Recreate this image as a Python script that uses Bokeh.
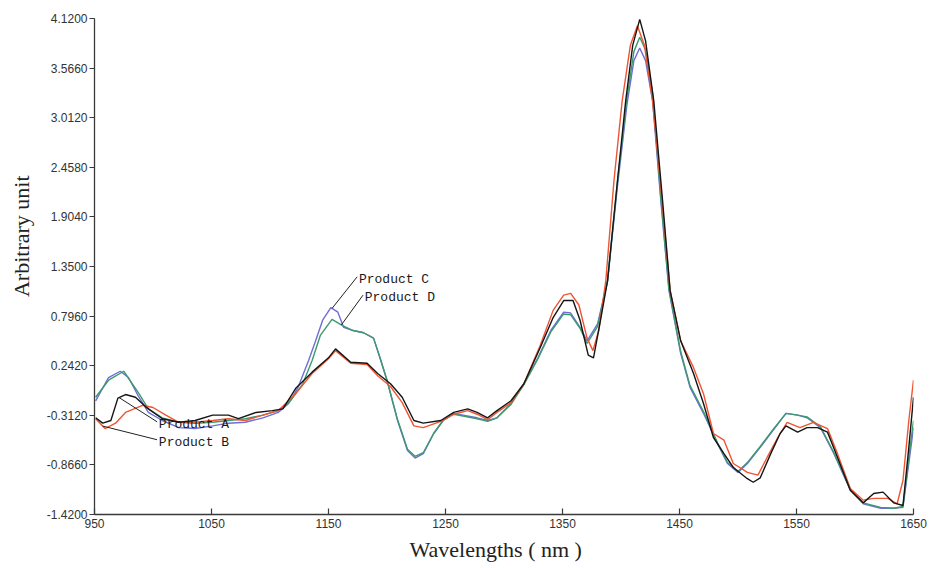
import numpy as np
from bokeh.plotting import figure
from bokeh.models import FixedTicker, NumeralTickFormatter, Range1d
from bokeh.embed import file_html
from bokeh.resources import INLINE
from bokeh.core.properties import value

# ---------------- data ----------------
wl_a = [951, 957, 964, 970, 976.5, 985, 994, 1008, 1022, 1036, 1051, 1064.5, 1073, 1088, 1102, 1111,
        1122, 1136, 1150, 1156, 1169, 1183, 1192, 1203, 1213, 1223, 1231, 1246, 1257, 1269, 1277,
        1286, 1294, 1306, 1317, 1331, 1342, 1351, 1359, 1365, 1372, 1376.5, 1382.5, 1388.5, 1397,
        1404, 1410, 1416, 1421, 1428, 1435.5, 1442, 1451, 1462, 1470.5, 1479, 1488, 1496, 1508,
        1513, 1519, 1528, 1536, 1541, 1551, 1559, 1568, 1576.5, 1585, 1596, 1607, 1616, 1624,
        1633, 1641, 1646, 1650]
val_a = [-0.34, -0.40, -0.37, -0.12, -0.08, -0.11, -0.22, -0.35, -0.39, -0.37, -0.31, -0.31, -0.35,
         -0.28, -0.26, -0.24, -0.01, 0.17, 0.33, 0.43, 0.28, 0.27, 0.155, 0.04, -0.11, -0.37, -0.40,
         -0.37, -0.28, -0.24, -0.28, -0.34, -0.26, -0.15, 0.04, 0.445, 0.78, 0.97, 0.97, 0.75, 0.36,
         0.33, 0.75, 1.19, 2.31, 3.20, 3.82, 4.11, 3.87, 3.20, 2.09, 1.08, 0.52, 0.155, -0.18, -0.56,
         -0.74, -0.895, -1.02, -1.06, -1.01, -0.74, -0.515, -0.43, -0.50, -0.45, -0.45, -0.50, -0.78,
         -1.15, -1.29, -1.185, -1.17, -1.29, -1.32, -0.67, -0.11]

wl_b = [951, 959, 968, 976.5, 991, 1000, 1011, 1022, 1036, 1051, 1064.5, 1079, 1094, 1107, 1122,
        1136, 1150, 1156, 1169, 1183, 1192, 1203, 1213, 1223, 1231, 1246, 1257, 1269, 1277, 1286,
        1294, 1306, 1317, 1331, 1342, 1351, 1357, 1364, 1371, 1376, 1381, 1387, 1394, 1401, 1408,
        1414, 1420, 1427, 1435, 1442, 1451, 1462, 1470.5, 1479, 1488, 1496, 1508, 1517, 1525, 1534,
        1542, 1553, 1564.5, 1576.5, 1585, 1596, 1607, 1616, 1628, 1636, 1641, 1646, 1650]
val_b = [-0.35, -0.46, -0.40, -0.28, -0.20, -0.225, -0.31, -0.39, -0.39, -0.37, -0.35, -0.37, -0.31,
         -0.26, -0.07, 0.155, 0.32, 0.41, 0.27, 0.255, 0.13, 0.01, -0.17, -0.43, -0.45, -0.38, -0.30,
         -0.26, -0.30, -0.36, -0.28, -0.17, 0.04, 0.47, 0.86, 1.03, 1.05, 0.92, 0.55, 0.41, 0.635,
         1.19, 2.31, 3.20, 3.82, 4.04, 3.82, 3.20, 2.09, 1.08, 0.52, 0.22, -0.07, -0.515, -0.59, -0.85,
         -0.95, -0.98, -0.78, -0.56, -0.39, -0.45, -0.39, -0.46, -0.74, -1.13, -1.26, -1.24, -1.24,
         -1.30, -1.04, -0.37, 0.08]

wl_c = [951, 962, 972, 979, 988, 996, 1008, 1022, 1036, 1051, 1064.5, 1079, 1094, 1107, 1116, 1124,
        1133, 1139, 1145, 1152, 1158, 1163, 1171, 1180, 1188.5, 1194, 1200, 1209, 1217.5, 1224, 1231,
        1240, 1248, 1257, 1265, 1277, 1286, 1294, 1306, 1317, 1329, 1340, 1351, 1357, 1365, 1371,
        1380, 1388.5, 1397, 1405, 1411, 1416, 1421, 1427, 1434, 1441, 1451, 1459, 1470.5, 1482.5,
        1491, 1500, 1508, 1519, 1530, 1541, 1551, 1559, 1570.5, 1582, 1596, 1607, 1622, 1633, 1641,
        1647, 1650]
val_c = [-0.15, 0.11, 0.18, 0.11, -0.11, -0.28, -0.37, -0.45, -0.46, -0.43, -0.40, -0.39, -0.34, -0.28,
         -0.18, 0.00, 0.30, 0.52, 0.75, 0.89, 0.84, 0.67, 0.635, 0.61, 0.55, 0.33, 0.08, -0.37, -0.705,
         -0.79, -0.74, -0.515, -0.37, -0.29, -0.31, -0.34, -0.37, -0.34, -0.18, 0.04, 0.33, 0.635, 0.84,
         0.83, 0.67, 0.52, 0.71, 1.19, 2.25, 3.15, 3.65, 3.79, 3.65, 3.20, 2.09, 1.08, 0.38, 0.00,
         -0.29, -0.63, -0.85, -0.95, -0.85, -0.67, -0.48, -0.29, -0.31, -0.34, -0.45, -0.74, -1.15,
         -1.30, -1.35, -1.35, -1.34, -0.75, -0.45]

wl_d = [951, 962, 975, 988, 996, 1008, 1022, 1036, 1051, 1064.5, 1079, 1094, 1107, 1117.5, 1128, 1136,
        1143, 1153, 1162, 1171, 1180, 1188.5, 1194, 1200, 1209, 1217.5, 1224, 1231, 1240, 1248, 1257,
        1265, 1277, 1286, 1294, 1306, 1317, 1329, 1340, 1351, 1357, 1365, 1371, 1380, 1388.5, 1397,
        1405, 1411, 1416, 1421, 1427, 1434, 1441, 1451, 1459, 1470.5, 1482.5, 1491, 1500, 1508, 1519,
        1530, 1541, 1551, 1559, 1570.5, 1582, 1596, 1607, 1622, 1633, 1641, 1647, 1650]
val_d = [-0.11, 0.08, 0.18, -0.07, -0.24, -0.34, -0.39, -0.40, -0.39, -0.37, -0.35, -0.31, -0.26, -0.15,
         0.04, 0.30, 0.58, 0.76, 0.69, 0.635, 0.61, 0.55, 0.33, 0.08, -0.36, -0.69, -0.77, -0.73, -0.51,
         -0.37, -0.30, -0.32, -0.35, -0.38, -0.34, -0.19, 0.03, 0.32, 0.62, 0.82, 0.81, 0.66, 0.49, 0.68,
         1.19, 2.30, 3.22, 3.75, 3.91, 3.77, 3.28, 2.12, 1.10, 0.40, 0.02, -0.27, -0.62, -0.84, -0.94,
         -0.84, -0.66, -0.47, -0.29, -0.31, -0.33, -0.44, -0.73, -1.14, -1.29, -1.34, -1.35, -1.33,
         -0.68, -0.37]

x_ticks = [950, 1050, 1150, 1250, 1350, 1450, 1550, 1650]
y_ticks = [-1.42, -0.866, -0.312, 0.242, 0.796, 1.35, 1.904, 2.458, 3.012, 3.566, 4.12]

ann_labels = ["Product A", "Product B", "Product C", "Product D"]
ann_anchor_wl = [971, 957, 1153, 1161]
ann_text_wl = [1005, 1005, 1176, 1181]
ann_text_val = [-0.415, -0.615, 1.205, 1.0]

# ---------------- figure ----------------
p = figure(width=933, height=568, output_backend="svg", toolbar_location=None, title=None,
           x_range=Range1d(950, 1650), y_range=Range1d(-1.42, 4.12),
           min_border_left=94, min_border_right=20, min_border_top=18, min_border_bottom=54)
p.outline_line_color = None
p.xgrid.visible = False
p.ygrid.visible = False
p.background_fill_color = "white"
p.border_fill_color = "white"

series = [
    (wl_c, val_c, "#6e6ed8"),
    (wl_d, val_d, "#3d9a6c"),
    (wl_b, val_b, "#ee5533"),
    (wl_a, val_a, "#151515"),
]
for xs, ys, col in series:
    p.line(xs, ys, line_color=col, line_width=1.4)

# annotations with leader lines
src_for = {"Product A": (wl_a, val_a), "Product B": (wl_b, val_b),
           "Product C": (wl_c, val_c), "Product D": (wl_d, val_d)}
x0, y0, x1, y1 = [], [], [], []
for lab, awl, twl, tval in zip(ann_labels, ann_anchor_wl, ann_text_wl, ann_text_val):
    xs, ys = src_for[lab]
    x0.append(awl)
    y0.append(float(np.interp(awl, xs, ys)))
    x1.append(twl - 1.5)
    y1.append(tval + 0.03)
p.segment(x0, y0, x1, y1, line_color="#222222", line_width=1)
p.text(ann_text_wl, ann_text_val, text=ann_labels, text_align="left", text_baseline="middle",
       text_font=value("Liberation Mono"), text_font_size="13px", text_color="#1a1a1a")

# axes
for ax in (p.xaxis[0], p.yaxis[0]):
    ax.axis_line_color = "#3a3a3a"
    ax.axis_line_width = 1.3
    ax.major_tick_line_color = "#3a3a3a"
    ax.major_tick_line_width = 1.2
    ax.minor_tick_line_color = None
    ax.major_label_text_font = "Liberation Sans"
    ax.major_label_text_font_size = "12px"
    ax.major_label_text_color = "#333333"
    ax.axis_label_text_font = "Liberation Serif"
    ax.axis_label_text_font_size = "22px"
    ax.axis_label_text_font_style = "normal"
    ax.axis_label_text_color = "#222222"

p.xaxis.ticker = FixedTicker(ticks=x_ticks)
p.xaxis.major_tick_in = 6
p.xaxis.major_tick_out = 0
p.xaxis.major_label_standoff = 4
p.xaxis.axis_label = "Wavelengths ( nm )\u00a0\u00a0\u00a0"
p.xaxis.axis_label_standoff = 6

p.yaxis.ticker = FixedTicker(ticks=y_ticks)
p.yaxis.formatter = NumeralTickFormatter(format="0.0000")
p.yaxis.major_tick_in = 0
p.yaxis.major_tick_out = 5
p.yaxis.major_label_standoff = 2
# leading no-break spaces lift the rotated title to where the reference has it
p.yaxis.axis_label = "\u00a0" * 11 + "Arbitrary unit"
p.yaxis.axis_label_standoff = 10

open("out.html", "w").write(file_html(p, INLINE))
